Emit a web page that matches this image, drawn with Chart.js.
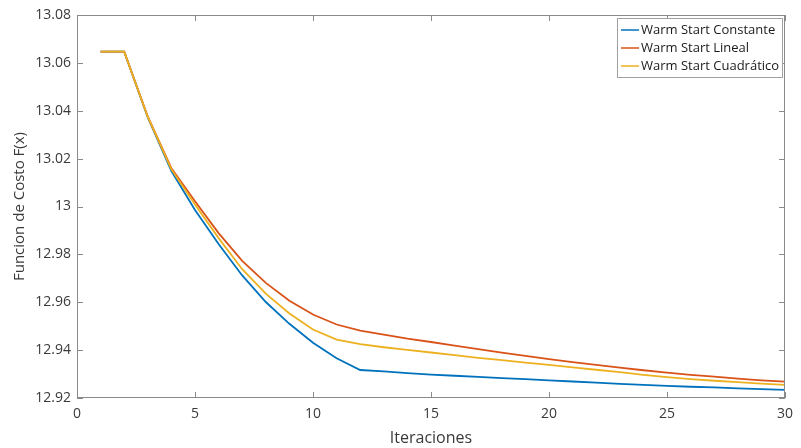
<!DOCTYPE html>
<html>
<head>
<meta charset="utf-8">
<script src="https://cdn.jsdelivr.net/npm/chart.js@4.4.1/dist/chart.umd.min.js"></script>
<style>
  html, body { margin: 0; padding: 0; background: #fff; }
  #Chart_0 { display: block; }
</style>
</head>
<body>
<canvas id="Chart_0" width="801" height="448"></canvas>
<script>
"use strict";

// datos
const iteraciones = [1, 2, 3, 4, 5, 6, 7, 8, 9, 10, 11, 12, 13, 14, 15, 16, 17, 18, 19, 20, 21, 22, 23, 24, 25, 26, 27, 28, 29, 30];
const ws_Constante = [13.0647, 13.0647, 13.0372, 13.0148, 12.9985, 12.9843, 12.9712, 12.9601, 12.9510, 12.9431,
  12.9366, 12.9317, 12.9311, 12.9304, 12.9298, 12.9293, 12.9288, 12.9283, 12.9279, 12.9274,
  12.9269, 12.9264, 12.9259, 12.9255, 12.9251, 12.9247, 12.9244, 12.9240, 12.9237, 12.9234];
const ws_Lineal = [13.0647, 13.0647, 13.0375, 13.0160, 13.0022, 12.9889, 12.9773, 12.9681, 12.9606, 12.9549,
  12.9507, 12.9481, 12.9465, 12.9448, 12.9434, 12.9419, 12.9404, 12.9390, 12.9376, 12.9362,
  12.9350, 12.9338, 12.9327, 12.9316, 12.9306, 12.9297, 12.9289, 12.9281, 12.9274, 12.9268];
const ws_Cuadratico = [13.0647, 13.0647, 13.0374, 13.0155, 13.0008, 12.9868, 12.9738, 12.9636, 12.9553, 12.9486,
  12.9444, 12.9425, 12.9412, 12.9401, 12.9390, 12.9379, 12.9368, 12.9358, 12.9348, 12.9338,
  12.9328, 12.9318, 12.9308, 12.9297, 12.9287, 12.9279, 12.9272, 12.9266, 12.9260, 12.9255];
const nombres = ['Warm Start Constante', 'Warm Start Lineal', 'Warm Start Cuadrático'];
const colores = ['#0072BD', '#D95319', '#EDB120'];
const x_Ticks = [0, 5, 10, 15, 20, 25, 30];
const y_Ticks = [12.92, 12.94, 12.96, 12.98, 13.00, 13.02, 13.04, 13.06, 13.08];

const FONT = "'Open Sans', 'Noto Sans', sans-serif";
const EJE = '#8a8a8a';
const TEXTO = '#3a3a3a';

function pares(vals) {
  return iteraciones.map((it, i) => ({ x: it, y: vals[i] }));
}

// caja de ejes estilo matlab con marcas hacia dentro
const cajaPlugin = {
  id: 'caja',
  afterDatasetsDraw(chart) {
    const { ctx, chartArea: a, scales } = chart;
    ctx.save();
    ctx.strokeStyle = EJE;
    ctx.lineWidth = 1;
    ctx.strokeRect(Math.round(a.left) + 0.5, Math.round(a.top) + 0.5,
      Math.round(a.right - a.left) - 1, Math.round(a.bottom - a.top) - 1);
    ctx.beginPath();
    x_Ticks.forEach(v => {
      const px = Math.round(scales.x.getPixelForValue(v)) + 0.5;
      ctx.moveTo(px, a.bottom); ctx.lineTo(px, a.bottom - 6);
      ctx.moveTo(px, a.top); ctx.lineTo(px, a.top + 6);
    });
    y_Ticks.forEach(v => {
      const py = Math.round(scales.y.getPixelForValue(v)) + 0.5;
      ctx.moveTo(a.left, py); ctx.lineTo(a.left + 6, py);
      ctx.moveTo(a.right, py); ctx.lineTo(a.right - 6, py);
    });
    ctx.stroke();
    ctx.restore();
  }
};

// leyenda dentro del area, arriba a la derecha
const leyendaPlugin = {
  id: 'leyenda',
  afterDraw(chart) {
    const { ctx, chartArea: a } = chart;
    const sets = chart.data.datasets;
    ctx.save();
    ctx.font = "13px " + FONT;
    let w = 0;
    sets.forEach(d => { w = Math.max(w, ctx.measureText(d.label).width); });
    const boxW = Math.round(w + 27), rowH = 18, boxH = sets.length * rowH + 5;
    const x0 = Math.round(a.right) - boxW - 3, y0 = Math.round(a.top) + 3;
    ctx.fillStyle = '#fff';
    ctx.fillRect(x0, y0, boxW, boxH);
    ctx.strokeStyle = '#a0a0a0';
    ctx.lineWidth = 1;
    ctx.strokeRect(x0 + 0.5, y0 + 0.5, boxW, boxH);
    sets.forEach((d, i) => {
      const cy = y0 + 12 + i * rowH;
      ctx.strokeStyle = d.borderColor;
      ctx.lineWidth = 1.5;
      ctx.beginPath(); ctx.moveTo(x0 + 4, cy); ctx.lineTo(x0 + 22, cy); ctx.stroke();
      ctx.fillStyle = '#1a1a1a';
      ctx.textBaseline = 'middle';
      ctx.fillText(d.label, x0 + 24, cy);
    });
    ctx.restore();
  }
};

const series = [ws_Constante, ws_Lineal, ws_Cuadratico];

new Chart(document.getElementById('Chart_0'), {
  type: 'line',
  data: {
    datasets: series.map((s, i) => ({
      label: nombres[i],
      data: pares(s),
      order: series.length - i, // el ultimo encima, como en matlab
      borderColor: colores[i],
      backgroundColor: colores[i],
      borderWidth: 1.8,
      pointRadius: 0,
      tension: 0,
      fill: false
    }))
  },
  options: {
    responsive: false,
    animation: false,
    layout: { padding: { top: 15, right: 10, left: 0, bottom: 0 } },
    plugins: { legend: { display: false }, tooltip: { enabled: false } },
    scales: {
      x: {
        type: 'linear', min: 0, max: 30,
        afterBuildTicks: s => { s.ticks = x_Ticks.map(v => ({ value: v })); },
        afterFit: s => { s.height = 50; },
        grid: { drawOnChartArea: false, drawTicks: false },
        border: { display: false },
        ticks: { padding: 8, color: TEXTO, font: { family: FONT, size: 14 } },
        title: { display: true, text: 'Iteraciones', color: TEXTO, padding: 0, font: { family: FONT, size: 16 } }
      },
      y: {
        type: 'linear', min: 12.92, max: 13.08,
        afterBuildTicks: s => { s.ticks = y_Ticks.map(v => ({ value: v })); },
        afterFit: s => { s.width = 77; },
        grid: { drawOnChartArea: false, drawTicks: false },
        border: { display: false },
        ticks: {
          padding: 6, color: TEXTO, font: { family: FONT, size: 14 },
          callback: v => String(Number(v.toFixed(2)))
        },
        title: { display: true, text: 'Funcion de Costo F(x)', color: TEXTO, padding: { top: 11, bottom: 0 }, font: { family: FONT, size: 15 } }
      }
    }
  },
  plugins: [cajaPlugin, leyendaPlugin]
});
</script>
</body>
</html>
